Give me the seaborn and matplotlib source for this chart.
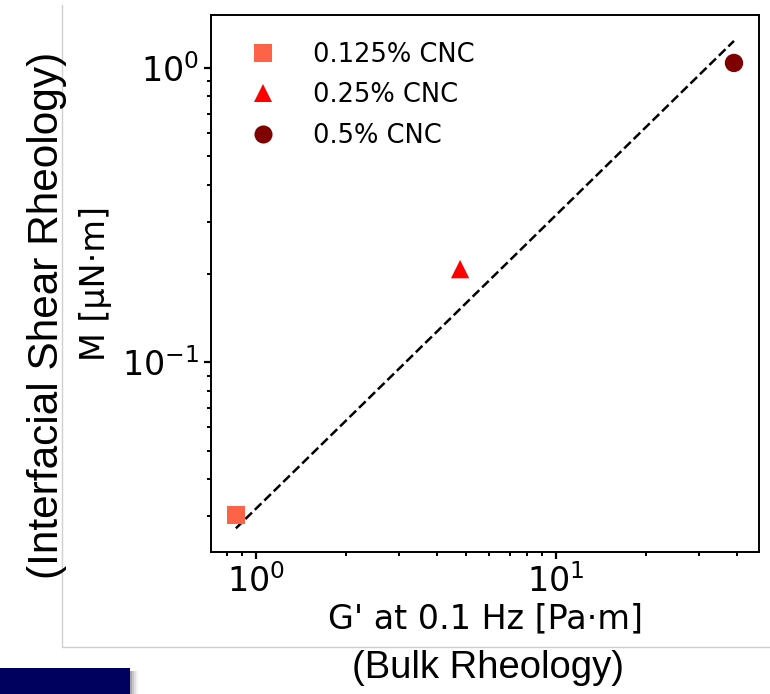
import numpy as np
import pandas as pd
import matplotlib
matplotlib.use("Agg")
import matplotlib.pyplot as plt
from matplotlib.lines import Line2D
from matplotlib.patches import Rectangle
import seaborn as sns

# ---- data ----
labels = ["0.125% CNC", "0.25% CNC", "0.5% CNC"]
g_bulk = [0.857, 4.79, 39.2]          # G' at 0.1 Hz [Pa·m]
m_interf = [0.0302, 0.207, 1.04]      # M [µN·m]
fit_x = [0.857, 39.2]
fit_y = [0.0272, 1.236]
colors = ["#FF6347", "#FF0000", "#7F0000"]
markers = ["s", "^", "o"]

df = pd.DataFrame({"G": g_bulk, "M": m_interf, "label": labels})

sns.set_style("ticks")
plt.rcParams["font.family"] = ["DejaVu Sans"]
plt.rcParams["mathtext.fontset"] = "dejavusans"
plt.rcParams["text.color"] = "black"
plt.rcParams["axes.labelcolor"] = "black"
plt.rcParams["xtick.color"] = "black"
plt.rcParams["ytick.color"] = "black"

fig = plt.figure(figsize=(7.7, 6.94), dpi=100)
ax = fig.add_axes([211/770, 1-552/694, (759-211)/770, (552-15)/694])

sns.lineplot(x=fit_x, y=fit_y, ax=ax, color="black", linestyle="--",
             linewidth=1.8, legend=False)
sns.scatterplot(data=df, x="G", y="M", hue="label", style="label",
                palette=dict(zip(labels, colors)),
                markers=dict(zip(labels, markers)),
                s=175, linewidth=0, ax=ax, legend=False, zorder=3)

ax.set_xscale("log")
ax.set_yscale("log")
ax.set_xlim(0.708, 47.5)
ax.set_ylim(0.0226, 1.514)

ax.set_xlabel("G' at 0.1 Hz [Pa·m]", fontsize=24, labelpad=3)
ax.set_ylabel("M [µN·m]", fontsize=24, labelpad=7)
ax.tick_params(axis="both", which="major", labelsize=24, length=5, width=1.6,
               direction="out", colors="black", labelcolor="black")
ax.tick_params(axis="both", which="minor", length=3, width=1.4, direction="out",
               colors="black")
for sp in ax.spines.values():
    sp.set_linewidth(1.4)
    sp.set_color("black")
    sp.set_visible(True)

handles = [Line2D([], [], linestyle="none", marker=m, color=c, markersize=13,
                  markeredgewidth=0) for m, c in zip(markers, colors)]
ax.legend(handles, labels, loc="upper left", bbox_to_anchor=(0.017, 0.993),
          frameon=False, fontsize=18.5, handletextpad=1.2, labelspacing=0.56,
          handlelength=1.5)

# outer annotations / screenshot frame
fig.text(47/770, 1-315/694, "(Interfacial Shear Rheology)", rotation=90,
         ha="center", va="center", fontsize=30.5, family="Liberation Sans",
         color="black")
fig.text(488/770, 1-668/694, "(Bulk Rheology)", ha="center", va="center",
         fontsize=27.5, family="Liberation Sans", color="black")
fig.add_artist(Line2D([62/770, 62/770], [1-5/694, 1-647/694],
                      transform=fig.transFigure, color="#d0d0d0", linewidth=1))
fig.add_artist(Line2D([62/770, 1.0], [1-647/694, 1-647/694],
                      transform=fig.transFigure, color="#d0d0d0", linewidth=1))
for i, a in enumerate([0.35, 0.22, 0.12, 0.05]):
    fig.add_artist(Rectangle(((130 + 2*i)/770, 0), 2/770, (694-671)/694,
                             transform=fig.transFigure, color="black",
                             alpha=a, lw=0))
fig.add_artist(Rectangle((0, 0), 130/770, (694-668)/694,
                         transform=fig.transFigure, color="#00005F", lw=0))

fig.savefig("out.png", dpi=100)
